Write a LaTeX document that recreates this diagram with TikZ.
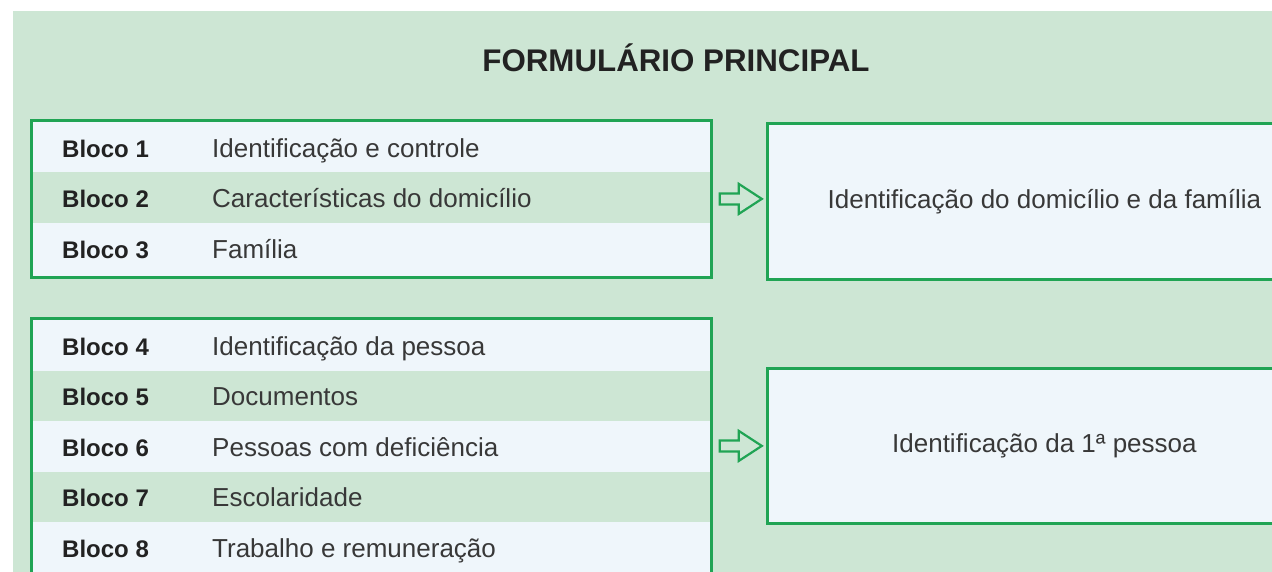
\documentclass[tikz,border=0pt]{standalone}
\usepackage{fontspec}
\setmainfont{Liberation Sans}
\usetikzlibrary{calc}
\definecolor{bgc}{HTML}{CDE6D4}
\definecolor{lite}{HTML}{EFF6FB}
\definecolor{edgec}{HTML}{20A454}
\definecolor{ink}{HTML}{383838}
\definecolor{inkb}{HTML}{222222}
\tikzset{
  rowcell/.style={anchor=north west, inner sep=0pt, minimum width=680pt, draw=none},
  blk/.style={anchor=base west, inner sep=0pt, text=inkb, font=\bfseries\fontsize{24}{28}\selectfont},
  desc/.style={anchor=base west, inner sep=0pt, text=ink, font=\fontsize{26}{30}\selectfont},
  frame/.style={anchor=north west, inner sep=0pt, draw=edgec, line width=2.8pt, minimum width=680pt},
  resbox/.style={anchor=north west, inner sep=0pt, draw=edgec, fill=lite, line width=2.8pt, minimum width=554pt, text=ink, font=\fontsize{26}{30}\selectfont},
  titlestyle/.style={inner sep=0pt, text=inkb, font=\bfseries\fontsize{31.3}{36}\selectfont},
  hollowarrow/.style={draw=edgec, line width=2.2pt, line join=miter}
}
\begin{document}
\begin{tikzpicture}[x=1pt,y=-1pt]
\useasboundingbox (0,0) rectangle (1272,571);
\clip (0,0) rectangle (1272,571);
\fill[white] (0,0) rectangle (1272,571);
\fill[bgc] (13,11) rectangle (1290,590);
\node[titlestyle] (title) at (676,58) {FORMULÁRIO PRINCIPAL};
% top group rows
\node[rowcell, fill=lite, minimum height=53pt] (r1) at (30,119) {};
\node[rowcell, fill=bgc, minimum height=51pt] (r2) at (30,172) {};
\node[rowcell, fill=lite, minimum height=53pt] (r3) at (30,223) {};
\node[frame, minimum height=157pt] (g1) at (30,119) {};
\node[blk] (b1) at (62,157) {Bloco 1};
\node[desc] (d1) at (212,157) {Identificação e controle};
\node[blk] (b2) at (62,207) {Bloco 2};
\node[desc] (d2) at (212,207) {Características do domicílio};
\node[blk] (b3) at (62,258) {Bloco 3};
\node[desc] (d3) at (212,258) {Família};
% bottom group rows
\node[rowcell, fill=lite, minimum height=54pt] (r4) at (30,317) {};
\node[rowcell, fill=bgc, minimum height=50pt] (r5) at (30,371) {};
\node[rowcell, fill=lite, minimum height=51pt] (r6) at (30,421) {};
\node[rowcell, fill=bgc, minimum height=50pt] (r7) at (30,472) {};
\node[rowcell, fill=lite, minimum height=60pt] (r8) at (30,522) {};
\node[frame, minimum height=275pt] (g2) at (30,317) {};
\node[blk] (b4) at (62,355) {Bloco 4};
\node[desc] (d4) at (212,355) {Identificação da pessoa};
\node[blk] (b5) at (62,405) {Bloco 5};
\node[desc] (d5) at (212,405) {Documentos};
\node[blk] (b6) at (62,456) {Bloco 6};
\node[desc] (d6) at (212,456) {Pessoas com deficiência};
\node[blk] (b7) at (62,506) {Bloco 7};
\node[desc] (d7) at (212,506) {Escolaridade};
\node[blk] (b8) at (62,557) {Bloco 8};
\node[desc] (d8) at (212,557) {Trabalho e remuneração};
% result boxes
\node[resbox, minimum height=156pt] (res1) at (766,122) {Identificação do domicílio e da família};
\node[resbox, minimum height=155pt] (res2) at (766,367) {Identificação da 1ª pessoa};
% hollow arrows
\coordinate (a1) at ($(g1.east)+(7,0)$);
\coordinate (a2) at ($(g1.east|-res2.west)+(7,0)$);
\foreach \a in {a1,a2}{
  \draw[hollowarrow] ($(\a)+(0,-5.5)$) -- ++(19,0) -- ++(0,-9.5) -- ++(23,15) -- ++(-23,15) -- ++(0,-9.5) -- ++(-19,0) -- cycle;
}
\end{tikzpicture}
\end{document}
